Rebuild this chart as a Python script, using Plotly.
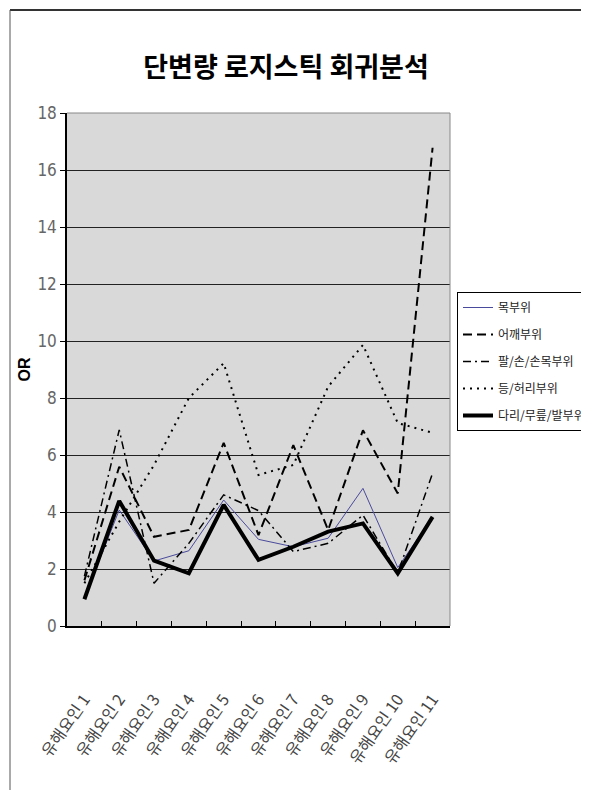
import plotly.graph_objects as go

categories = ["유해요인 1", "유해요인 2", "유해요인 3", "유해요인 4", "유해요인 5", "유해요인 6",
              "유해요인 7", "유해요인 8", "유해요인 9", "유해요인 10", "유해요인 11"]

neck = [1.0, 4.07, 2.28, 2.64, 4.42, 3.04, 2.78, 3.08, 4.83, 2.05, 3.83]
shoulder = [1.6, 5.59, 3.13, 3.37, 6.43, 3.19, 6.35, 3.37, 6.87, 4.65, 16.78]
arm_hand = [1.75, 6.88, 1.5, 2.9, 4.6, 4.05, 2.61, 2.9, 3.89, 1.85, 5.36]
back = [1.5, 3.66, 5.65, 8.0, 9.22, 5.3, 5.65, 8.4, 9.86, 7.12, 6.78]
leg = [0.94, 4.39, 2.29, 1.85, 4.25, 2.32, 2.78, 3.31, 3.6, 1.85, 3.83]

series_names = ["목부위", "어깨부위", "팔/손/손목부위", "등/허리부위", "다리/무릎/발부위"]
y_ticks = [0, 2, 4, 6, 8, 10, 12, 14, 16, 18]

styles = [
    dict(color="#4a4a9c", width=1, dash="solid"),
    dict(color="black", width=2, dash="9px,5px"),
    dict(color="black", width=1.5, dash="8px,4px,2px,4px"),
    dict(color="black", width=2, dash="2px,5px"),
    dict(color="black", width=4, dash="solid"),
]

fig = go.Figure()
for i, (name, vals) in enumerate(zip(series_names, [neck, shoulder, arm_hand, back, leg])):
    fig.add_trace(go.Scatter(x=categories, y=vals, mode="lines", name=name,
                             line=styles[i], legendgroup=f"g{i}"))

OFF = 8  # default page body margin
# target page-pixel positions of the plot area
PL, PR, PT, PB = 67, 450, 113, 626
W, H = 589 - OFF, 798 - 2 * OFF
L, R, T, B = PL - OFF, PR - OFF, PT - OFF, PB - OFF
pw, ph = R - L, B - T

def px(x):
    return (x - OFF - L) / pw

def py(y):
    return (B - (y - OFF)) / ph

fig.update_layout(
    width=W, height=H,
    margin=dict(l=L, r=W - R, t=T, b=H - B, pad=0, autoexpand=False),
    paper_bgcolor="white",
    plot_bgcolor="#d9d9d9",
    title=dict(text="<b>단변량 로지스틱 회귀분석</b>", x=px(286), xref="paper", xanchor="center",
               y=1 - (68 - OFF) / H, yanchor="middle",
               font=dict(family="Noto Sans CJK KR", size=27, color="black")),
    showlegend=True,
    legend=dict(x=px(457), y=py(292), xanchor="left", yanchor="top",
                bgcolor="white", bordercolor="black", borderwidth=1,
                font=dict(family="Noto Sans CJK KR", size=12, color="#222"),
                tracegroupgap=8, itemwidth=30),
    xaxis=dict(type="category", range=[-0.5, 10.5], showgrid=False, zeroline=False,
               showline=True, linecolor="black", linewidth=1.5,
               ticks="inside", tickson="boundaries", ticklen=5, tickcolor="black",
               tickangle=-55, ticklabelstandoff=56,
               tickfont=dict(family="Noto Sans CJK KR", size=16, color="#444")),
    yaxis=dict(range=[0, 18], tickvals=y_ticks, showgrid=True, gridcolor="#222", gridwidth=1,
               zeroline=False, showline=True, linecolor="black", linewidth=1.5,
               ticks="outside", ticklen=5, tickcolor="black",
               tickfont=dict(family="Liberation Sans Narrow, DejaVu Sans Condensed", size=17, color="#666"),
               title=dict(text="<b>OR</b>", standoff=3,
                          font=dict(family="Liberation Sans, Arial", size=16, color="black"))),
    shapes=[
        dict(type="line", xref="paper", yref="paper", x0=0, x1=1, y0=1, y1=1,
             line=dict(color="#888", width=1), layer="above"),
        dict(type="line", xref="paper", yref="paper", x0=1, x1=1, y0=0, y1=1,
             line=dict(color="#888", width=1), layer="above"),
        dict(type="line", xref="paper", yref="paper", x0=px(10), x1=px(620), y0=py(10), y1=py(10),
             line=dict(color="#333", width=2)),
        dict(type="line", xref="paper", yref="paper", x0=px(10), x1=px(10), y0=py(10), y1=py(820),
             line=dict(color="#555", width=1)),
    ],
)

fig.write_html("out.html")
